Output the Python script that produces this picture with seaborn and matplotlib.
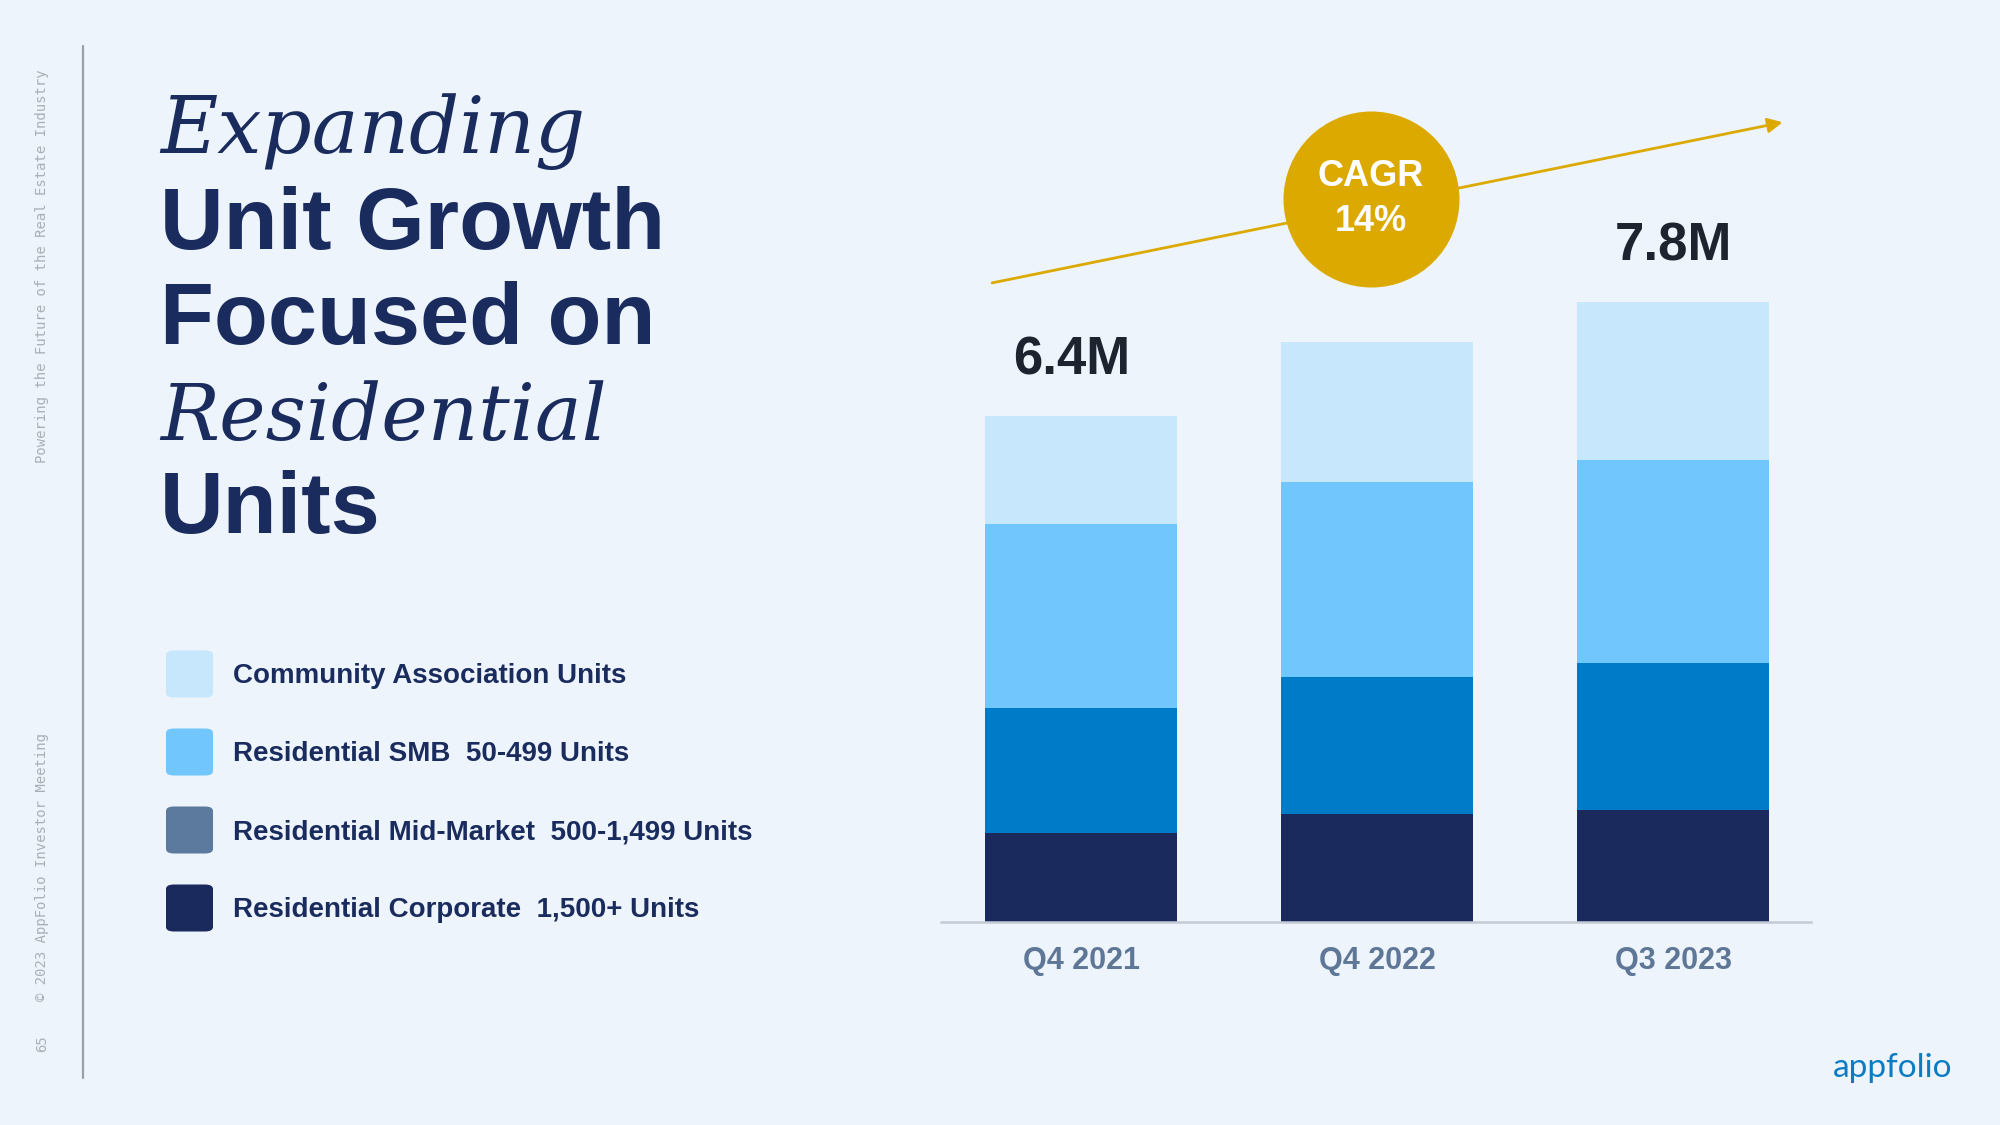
import matplotlib
matplotlib.use("Agg")
import matplotlib.pyplot as plt
import seaborn as sns
import pandas as pd
import numpy as np
from matplotlib.patches import FancyBboxPatch

# ---------------- data ----------------
quarters = ["Q4 2021", "Q4 2022", "Q3 2023"]
corporate = [1.12, 1.36, 1.42]      # Residential Corporate 1,500+ Units (M)
mid_market = [1.59, 1.74, 1.86]     # Residential Mid-Market 500-1,499 Units (M)
smb = [2.32, 2.46, 2.56]            # Residential SMB 50-499 Units (M)
community = [1.37, 1.77, 2.00]      # Community Association Units (M)
value_labels = ["6.4M", "", "7.8M"]
cagr_label = ["CAGR", "14%"]

legend_labels = [
    "Community Association Units",
    "Residential SMB  50-499 Units",
    "Residential Mid-Market  500-1,499 Units",
    "Residential Corporate  1,500+ Units",
]

# ---------------- style ----------------
BG = "#eef4fb"
NAVY = "#1a2c5e"
bar_colors = {"community": "#c7e7fc", "smb": "#71c7fd", "mid": "#007bc8", "corp": "#1a2a5c"}
legend_colors = ["#c7e7fc", "#71c7fd", "#5b7a9e", "#1a2a5c"]
GOLD = "#dba900"
label_dx = [-0.03, 0.0, 0.0]

sns.set_theme(style="white")
plt.rcParams["font.family"] = ["Liberation Sans", "DejaVu Sans"]

W, H = 2000, 1125
fig = plt.figure(figsize=(20, 11.25), dpi=100, facecolor=BG)

def fx(px):
    return px / W

def fy(py):
    return 1 - py / H

# ---------------- chart axes ----------------
base_px, top_px = 922, 90
px_per_m = 79.1
ax = fig.add_axes([fx(941), fy(base_px), (1811 - 941) / W, (base_px - top_px) / H])
ax.set_facecolor(BG)

df = pd.DataFrame({
    "quarter": quarters,
    "corp": corporate,
    "mid": mid_market,
    "smb": smb,
    "community": community,
})
df["c1"] = df["corp"]
df["c2"] = df["c1"] + df["mid"]
df["c3"] = df["c2"] + df["smb"]
df["c4"] = df["c3"] + df["community"]

for col, key in [("c4", "community"), ("c3", "smb"), ("c2", "mid"), ("c1", "corp")]:
    sns.barplot(data=df, x="quarter", y=col, color=bar_colors[key], saturation=1,
                width=0.65, errorbar=None, linewidth=0, ax=ax)

ax.set_xlim(-0.473, 2.466)
ax.set_ylim(0, (base_px - top_px) / px_per_m)
ax.set_xlabel("")
ax.set_ylabel("")
ax.set_yticks([])
for s in ["top", "right", "left"]:
    ax.spines[s].set_visible(False)
ax.spines["bottom"].set_color("#c5ccd7")
ax.spines["bottom"].set_linewidth(1.8)
ax.tick_params(axis="x", length=0, pad=17)
for lab in ax.get_xticklabels():
    lab.set_fontsize(22)
    lab.set_fontweight("bold")
    lab.set_color("#5f7797")

# value labels
for i, (tot, lab) in enumerate(zip(df["c4"], value_labels)):
    if lab:
        ax.annotate(lab, xy=(i + label_dx[i], tot), xytext=(0, 40), textcoords="offset points",
                    ha="center", va="center", fontsize=38, fontweight="bold", color="#1e2330")

# CAGR arrow and circle
ax.annotate("", xy=(2.37, 10.11), xytext=(-0.30, 8.08),
            arrowprops=dict(arrowstyle="-|>", color=GOLD, lw=2.0, mutation_scale=22,
                            shrinkA=0, shrinkB=0), annotation_clip=False, zorder=3)
ax.scatter([0.98], [9.14], s=(176 / 100 * 72) ** 2, color=GOLD, zorder=5, linewidths=0,
           clip_on=False)
ax.text(0.98, 9.42, cagr_label[0], ha="center", va="center", fontsize=26,
        fontweight="bold", color="white", zorder=6)
ax.text(0.98, 8.85, cagr_label[1], ha="center", va="center", fontsize=26,
        fontweight="bold", color="white", zorder=6)

# ---------------- title ----------------
title_lines = [
    ("Expanding", 153, "serif"),
    ("Unit Growth", 249, "sans"),
    ("Focused on", 344, "sans"),
    ("Residential", 440, "serif"),
    ("Units", 533, "sans"),
]
for txt, yb, kind in title_lines:
    if kind == "serif":
        fig.text(fx(160), fy(yb), txt, fontsize=56.5, family="DejaVu Serif", style="italic",
                 color=NAVY, va="baseline", ha="left")
    else:
        fig.text(fx(160), fy(yb), txt, fontsize=63.5, fontweight="bold", color=NAVY,
                 va="baseline", ha="left")

# ---------------- legend ----------------
leg_y = [674, 752, 830, 908]
for lab, col, yc in zip(legend_labels, legend_colors, leg_y):
    box = FancyBboxPatch((fx(166), fy(yc + 23.5)), 47 / W, 47 / H,
                         boxstyle="round,pad=0,rounding_size=0.004",
                         transform=fig.transFigure, facecolor=col, edgecolor="none")
    fig.add_artist(box)
    fig.text(fx(233), fy(yc + 2), lab, fontsize=20, fontweight="bold", color=NAVY,
             va="center", ha="left")

# ---------------- side decorations ----------------
fig.add_artist(plt.Line2D([fx(83), fx(83)], [fy(46), fy(1078)], transform=fig.transFigure,
                          color="#9aa0a8", lw=1.6))
side_kw = dict(rotation=90, family="DejaVu Sans Mono", fontsize=10, color="#a8afb8",
               ha="center", va="center")
fig.text(fx(42), fy(266), "Powering the Future of the Real Estate Industry", **side_kw)
fig.text(fx(42), fy(867), "\u00a9 2023 AppFolio Investor Meeting", **side_kw)
fig.text(fx(42), fy(1044), "65", **side_kw)

# logo
fig.text(fx(1833), fy(1068), "appfolio", fontsize=24, family="Lato", color="#0b7cc3",
         ha="left", va="center")

fig.savefig("out.png", dpi=100, facecolor=BG)
